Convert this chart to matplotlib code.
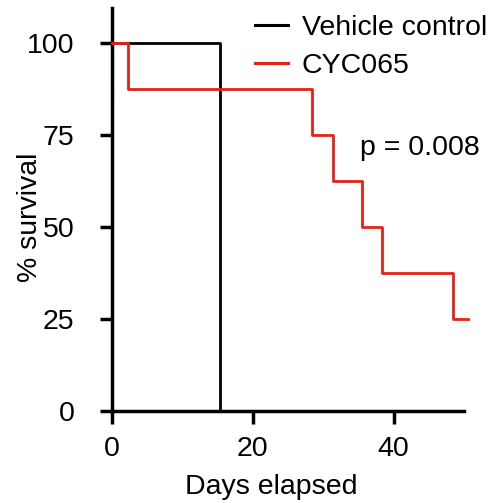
import matplotlib
matplotlib.use("Agg")
import matplotlib.pyplot as plt

plt.rcParams['font.family'] = ['Liberation Sans', 'DejaVu Sans']

# Data (Kaplan-Meier steps)
vehicle_days = [0, 15.4, 15.4]
vehicle_surv = [100, 100, 0]
cyc_days = [0, 2.3, 28.4, 31.4, 35.5, 38.4, 48.5, 50.5]
cyc_surv = [100, 87.5, 75, 62.5, 50, 37.5, 25, 25]
x_ticks = [0, 20, 40]
y_ticks = [0, 25, 50, 75, 100]
labels = ["Vehicle control", "CYC065"]
p_text = "p = 0.008"

FS = 20.5
W, H = 489, 503
fig = plt.figure(figsize=(W/100, H/100), dpi=100)
ax_l, ax_r, ax_b, ax_t = 112, 464, 410.7, 8
ax = fig.add_axes([ax_l/W, 1-ax_b/H, (ax_r-ax_l)/W, (ax_b-ax_t)/H])
aw, ah = ax_r-ax_l, ax_b-ax_t

ax.step(vehicle_days, vehicle_surv, where='post', color='black', lw=2.0,
        label=labels[0], clip_on=False, zorder=3)
ax.step(cyc_days, cyc_surv, where='post', color='#e2231a', lw=2.0,
        label=labels[1], clip_on=False, zorder=3)

ax.set_xlim(0, 50)
ax.set_ylim(0, 109.6)
ax.set_xticks(x_ticks)
ax.set_yticks(y_ticks)
for s in ['top', 'right']:
    ax.spines[s].set_visible(False)
for s in ['left', 'bottom']:
    ax.spines[s].set_linewidth(2.5)
ax.tick_params(axis='both', direction='out', length=9, width=2.5,
               labelsize=FS, colors='black')
ax.tick_params(axis='y', pad=18)
ax.tick_params(axis='x', pad=9)

ax.set_xlabel("Days elapsed", fontsize=FS)
ax.set_ylabel("% survival", fontsize=FS)
ax.xaxis.set_label_coords((271-ax_l)/aw, -(474-ax_b)/ah)
ax.yaxis.set_label_coords(-(ax_l-43)/aw, (ax_b-217)/ah)

leg = ax.legend(loc='upper left', bbox_to_anchor=((255-ax_l)/aw, 1-7/ah),
                frameon=False, fontsize=FS, handlelength=1.16, handletextpad=0.49,
                labelspacing=0.43, borderaxespad=0, borderpad=0)
for line in leg.get_lines():
    line.set_linewidth(2.2)

fig.text(360/W, 1-148/H, p_text, fontsize=FS, va='center', ha='left')

fig.savefig("out.png", dpi=100)
